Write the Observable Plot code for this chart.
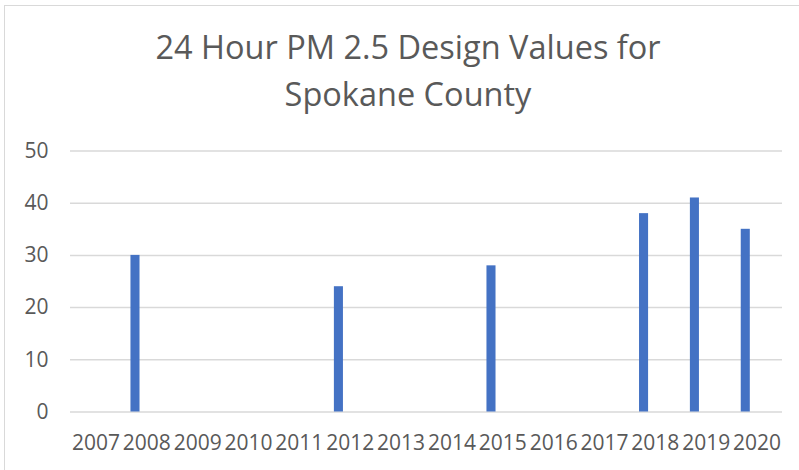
<!DOCTYPE html>
<html>
<head>
<meta charset="utf-8">
<script src="https://cdn.jsdelivr.net/npm/d3@7"></script>
<script src="https://cdn.jsdelivr.net/npm/@observablehq/plot@0.6"></script>
<style>
  html, body { margin: 0; padding: 0; background: #fff; }
  #wrap { position: relative; width: 799px; height: 470px; overflow: hidden; background: #fff; font-family: "Open Sans", sans-serif; }
  #frame { position: absolute; left: 4px; top: 5px; width: 900px; height: 600px; border-left: 1.5px solid #d9d9d9; border-top: 1.5px solid #d9d9d9; }
  #title { position: absolute; left: 0; width: 816px; top: 23px; text-align: center; color: #595959; font-size: 32.5px; line-height: 47px; }
  #chart { position: absolute; left: 0; top: 130px; }
</style>
</head>
<body>
<div id="wrap">
  <div id="frame"></div>
  <div id="title">24 Hour PM 2.5 Design Values for<br>Spokane County</div>
  <div id="chart"></div>
</div>
<script>
const years = ["2007","2008","2009","2010","2011","2012","2013","2014","2015","2016","2017","2018","2019","2020"];
const values = [null, 30, null, null, null, 24, null, null, 28, null, null, 38, 41, 35];
const yTicks = [0, 10, 20, 30, 40, 50];

const data = years.map((y, i) => ({year: y, value: values[i]}));

const chart = Plot.plot({
  width: 799,
  height: 340,
  marginLeft: 70,
  marginRight: 17,
  marginTop: 20.5,
  marginBottom: 58.5,
  style: {fontFamily: "'Open Sans', sans-serif", fontSize: "21px", color: "#595959", background: "transparent"},
  x: {domain: years, padding: 0, round: false, label: null},
  y: {domain: [0, 50], ticks: yTicks, label: null},
  marks: [
    Plot.ruleY(yTicks, {stroke: "#d9d9d9", strokeWidth: 1.5}),
    Plot.barY(data, {x: "year", y: "value", fill: "#4472C4", insetLeft: 9.6, insetRight: 32.2}),
    Plot.axisX({tickSize: 0, tickPadding: 23, fontSize: 21, color: "#595959", label: null}),
    Plot.axisY({ticks: yTicks, tickSize: 0, tickPadding: 22, fontSize: 21, color: "#595959", label: null})
  ]
});
document.getElementById("chart").appendChild(chart);
</script>
</body>
</html>
